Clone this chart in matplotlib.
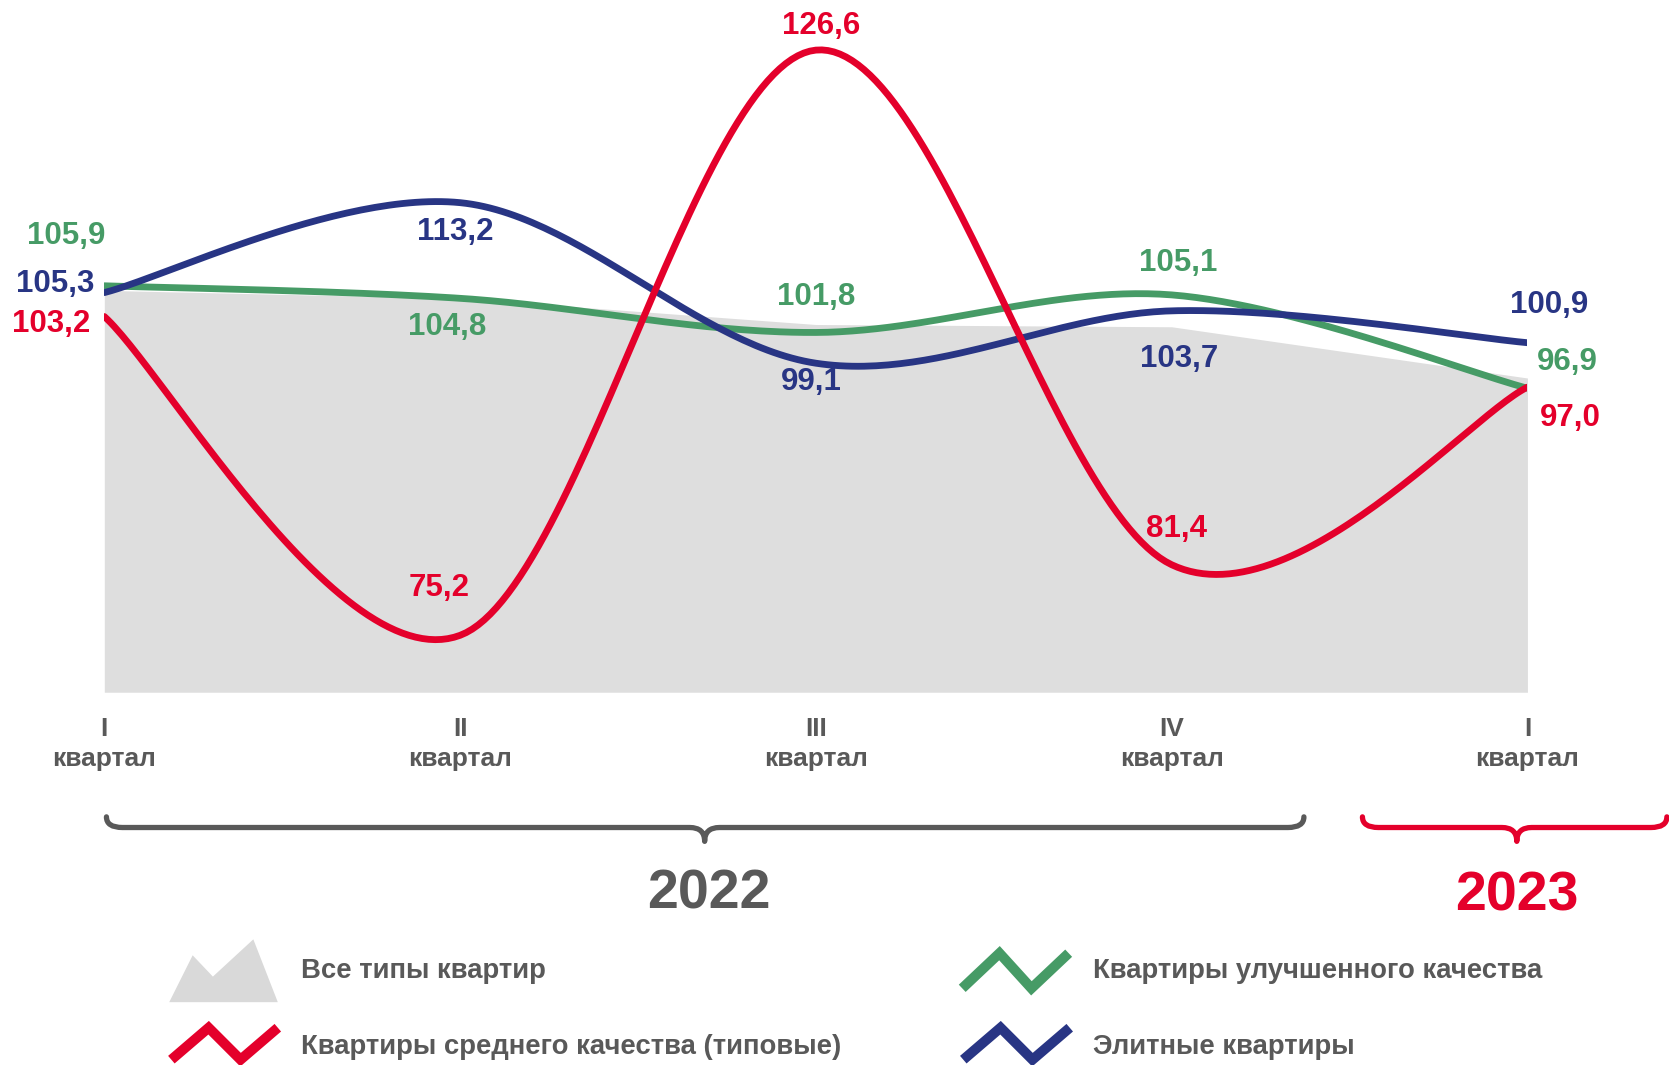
import matplotlib
matplotlib.use('Agg')
import matplotlib.pyplot as plt
import numpy as np
from matplotlib.path import Path
from matplotlib.patches import PathPatch, Polygon

plt.rcParams['font.family'] = ['Liberation Sans', 'DejaVu Sans']

# data
quarters = ['I', 'II', 'III', 'IV', 'I']
all_types = [105.5, 104.8, 102.5, 102.3, 97.8]
standard = [103.2, 75.2, 126.6, 81.4, 97.0]
improved = [105.9, 104.8, 101.8, 105.1, 96.9]
elite = [105.3, 113.2, 99.1, 103.7, 100.9]

RED = '#E4002B'
GREEN = '#469B66'
BLUE = '#283584'
GRAY = '#595959'
AREA = '#DEDEDE'

# label offsets (px in reference layout), per series per point
off_standard = [(-50, -7), (-20, 44), (5, 23), (5, 34), (40, -29)]
off_improved = [(-36, 47), (-12, -27), (0, 33), (6, 30), (37, 25)]
off_elite = [(-46, 8), (-5, -28), (-4, -18), (7, -45), (20, 35)]

S = 1669 / 1568  # reference layout px -> output px


def smooth(xs, ys, n=60):
    # excel-like smoothing: bezier with catmull-rom control points
    P = np.column_stack([xs, ys]).astype(float)
    P = np.vstack([P[0], P, P[-1]])
    t = np.linspace(0, 1, n)[:, None]
    out = []
    for i in range(1, len(P) - 2):
        b0 = P[i]
        b1 = P[i] + (P[i + 1] - P[i - 1]) / 6
        b2 = P[i + 1] - (P[i + 2] - P[i]) / 6
        b3 = P[i + 1]
        seg = ((1 - t) ** 3) * b0 + 3 * ((1 - t) ** 2) * t * b1 + 3 * (1 - t) * t ** 2 * b2 + t ** 3 * b3
        out.append(seg if i == 1 else seg[1:])
    out = np.vstack(out)
    return out[:, 0], out[:, 1]


fig = plt.figure(figsize=(16.69, 10.65), dpi=100)

# overlay in reference pixel coords for decorations
ov = fig.add_axes([0, 0, 1, 1])
ov.set_xlim(0, 1568)
ov.set_ylim(1000, 0)
ov.axis('off')

ax = fig.add_axes([98 / 1568, 0.35, (1435 - 98) / 1568, 0.65])
ax.patch.set_alpha(0)
x = np.arange(len(quarters))
ax.set_xlim(0, 4)
ax.set_ylim(70.2, 131.0)
for s in ax.spines.values():
    s.set_visible(False)
ax.set_yticks([])

ax.fill_between(x, all_types, 70.2, color=AREA, lw=0, zorder=1)

for vals, col, offs in [(improved, GREEN, off_improved), (elite, BLUE, off_elite), (standard, RED, off_standard)]:
    sx, sy = smooth(x, vals)
    ax.plot(sx, sy, color=col, lw=4.9, solid_capstyle='round', zorder=3)
    for xi, v, (dx, dy) in zip(x, vals, offs):
        ax.annotate(f'{v:.1f}'.replace('.', ','), (xi, v), xytext=(dx * S, dy * S),
                    textcoords='offset pixels', ha='center', va='center',
                    fontsize=22.5, fontweight='bold', color=col, annotation_clip=False, zorder=4)

ax.set_xticks(x, labels=[f'{q}\nквартал' for q in quarters])
ax.tick_params(axis='x', length=0, pad=17.5, labelsize=19, labelcolor=GRAY)
for lab in ax.get_xticklabels():
    lab.set_fontweight('bold')
    lab.set_linespacing(1.32)


def brace(x0, x1, xm, col):
    y0, y1, y2 = 767, 777, 790
    r = 15
    verts = [(x0, y0), (x0, y1), (x0 + r, y1), (xm - 14, y1), (xm, y1), (xm, y2),
             (xm, y1), (xm + 14, y1), (x1 - r, y1), (x1, y1), (x1, y0)]
    codes = [Path.MOVETO, Path.CURVE3, Path.CURVE3, Path.LINETO, Path.CURVE3, Path.CURVE3,
             Path.CURVE3, Path.CURVE3, Path.LINETO, Path.CURVE3, Path.CURVE3]
    ov.add_patch(PathPatch(Path(verts, codes), fill=False, ec=col, lw=3.8, capstyle='round', joinstyle='round'))


brace(100, 1225, 662, GRAY)
brace(1280, 1566, 1425, RED)
ov.text(666, 840, '2022', ha='center', va='center', fontsize=40, fontweight='bold', color=GRAY)
ov.text(1425, 842, '2023', ha='center', va='center', fontsize=40, fontweight='bold', color=RED)

# legend
ov.add_patch(Polygon([(159, 941), (181, 897), (200, 917), (238, 882), (261, 941)], closed=True,
                     fc='#D9D9D9', ec='none'))


def zigzag(x0, ytop, ybot, col):
    pts = np.array([(x0, ybot), (x0 + 35, ytop), (x0 + 65, ybot), (x0 + 100, ytop)])
    ov.plot(pts[:, 0], pts[:, 1], color=col, lw=7.2, solid_capstyle='butt', solid_joinstyle='miter')


zigzag(161, 965, 995, RED)
zigzag(904, 895, 928, GREEN)
zigzag(905, 965, 995, BLUE)

leg = [(283, 912, 'Все типы квартир'), (283, 983, 'Квартиры среднего качества (типовые)'),
       (1027, 912, 'Квартиры улучшенного качества'), (1027, 983, 'Элитные квартиры')]
for lx, ly, t in leg:
    ov.text(lx, ly, t, ha='left', va='center', fontsize=19.8, fontweight='bold', color=GRAY)

fig.savefig('out.png', dpi=100)
